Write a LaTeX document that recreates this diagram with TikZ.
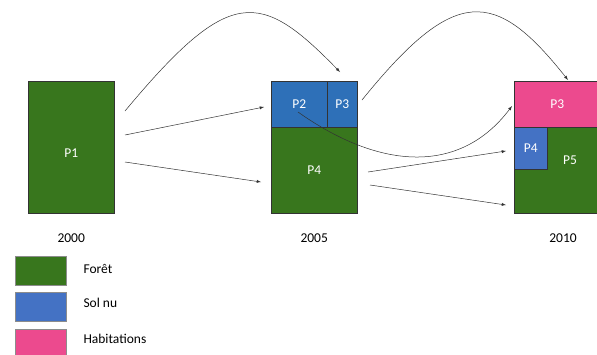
\documentclass[tikz,border=0pt]{standalone}
\usepackage{fontspec}
\setmainfont{Carlito}
\usetikzlibrary{positioning}

\definecolor{foret}{HTML}{38761D}
\definecolor{solnu}{HTML}{2E70B8}
\definecolor{solnuclair}{HTML}{4472C4}
\definecolor{habitat}{HTML}{EC4A8E}

\begin{document}
\begin{tikzpicture}[x=1pt,
            y=-1pt,
            >=latex,
            font=\fontsize{13.5}{16}\selectfont,
            parcel/.style={draw=black!80,thin,text=white,inner sep=0pt,anchor=north west},
            legbox/.style={draw=black!45,thin,minimum width=51pt,minimum height=29pt,inner sep=0pt},
            flow/.style={->,black!80,semithin}]

        \tikzset{semithin/.style={line width=0.5pt}}
        \useasboundingbox (0,0) rectangle (597,354);

        % 2000
        \node[parcel,fill=foret,minimum width=86pt,minimum height=132pt,text height=21pt] (a1) at (28,81) {P1};
        % 2005
        \node[parcel,fill=solnu,minimum width=56pt,minimum height=46pt]   (b2) at (271,81)  {P2};
        \node[parcel,fill=solnu,minimum width=30pt,minimum height=46pt]   (b3) at (327,81)  {P3};
        \node[parcel,fill=foret,minimum width=86pt,minimum height=86pt]   (b4) at (271,127) {P4};
        % 2010
        \node[parcel,fill=habitat,minimum width=86pt,minimum height=46pt] (c3) at (514,81)  {P3};
        \node[parcel,fill=foret,minimum width=86pt,minimum height=86pt]   (c5) at (514,127) {};
        \node[parcel,fill=solnuclair,minimum width=33pt,minimum height=42pt] (c4) at (514,127) {P4};
        \node[text=white]                                                  (c5l) at (570,160) {P5};

        \node (y1) [below=17pt of a1] {2000};
        \node (y2) [below=17pt of b4] {2005};
        \node (y3) at (563,238)       {2010};

        % legende
        \node[legbox,fill=foret]      (l1) at (40.5,270.5) {};
        \node[legbox,fill=solnuclair] (l2) [below=7pt of l1] {};
        \node[legbox,fill=habitat]    (l3) [below=7pt of l2] {};
        \node[anchor=west] (t1) at (80,269) {Forêt};
        \node[anchor=west] (t2) at (80,303) {Sol nu};
        \node[anchor=west] (t3) at (80,339) {Habitations};

        % fleches
        \coordinate (s1) at (125,111);
        \coordinate (s2) at (125,135);
        \coordinate (s3) at (125,162);
        \coordinate (s4) at (362,100);
        \coordinate (s5) at (298,112);
        \coordinate (s6) at (368,172);
        \coordinate (s7) at (370,185);
        \coordinate (e1) at (340,72);
        \coordinate (e2) at (264,107);
        \coordinate (e3) at (261,182);
        \coordinate (e4) at (568,80);
        \coordinate (e5) at (512,106);
        \coordinate (e6) at (506,151);
        \coordinate (e7) at (506,205);

        \draw[flow] (s1) .. controls (230,-15) and (260,-10) .. (e1);
        \draw[flow] (s4) .. controls (455,-15) and (495,-12) .. (e4);
        \draw[flow] (s5) .. controls (380,170) and (460,175) .. (e5);
        \path[flow] (s2) edge (e2)
                    (s3) edge (e3)
                    (s6) edge (e6)
                    (s7) edge (e7);

    \end{tikzpicture}
\end{document}
